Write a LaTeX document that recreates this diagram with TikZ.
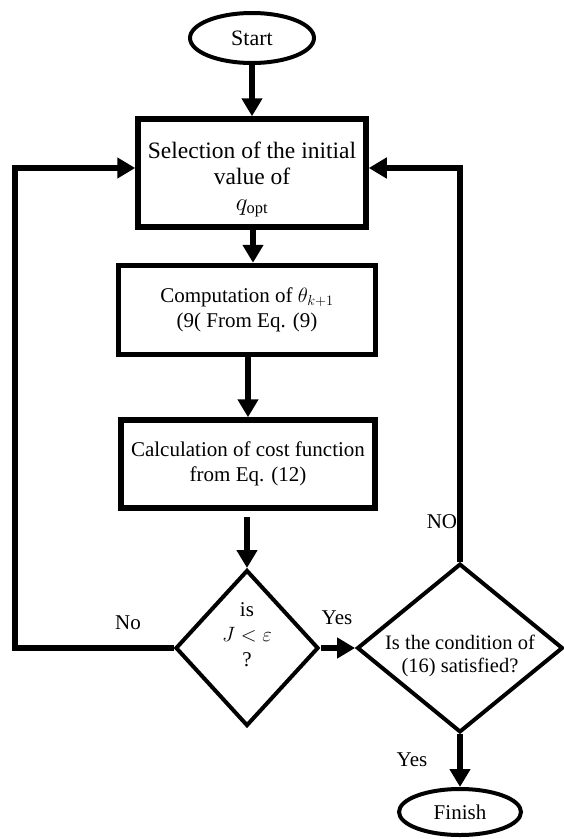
\documentclass[tikz,border=0pt]{standalone}
\usepackage{fontspec}
\setmainfont{Liberation Serif}
\usetikzlibrary{arrows.meta, shapes.geometric}
% lift the lines of a block without changing the size of its shape
\newcommand{\liftlines}[2]{\raisebox{#1}[\height][\depth]{\begin{tabular}{@{}c@{}}#2\end{tabular}}}

\begin{document}
\begin{tikzpicture}[x=1pt,y=-1pt,>={Triangle[length=18pt,width=20pt]},
  font=\fontsize{21}{25}\selectfont,
  box/.style={draw, rectangle, line width=5.5pt, align=center, inner sep=0pt},
  term/.style={draw, ellipse, line width=4pt, inner sep=0pt},
  decision/.style={draw, diamond, line width=4pt, inner sep=0pt},
  link/.style={->, line width=6pt}]
\useasboundingbox (0,0) rectangle (563,839);

% define the blocks of the chart
  \node[term, minimum width=124pt, minimum height=50pt, font=\fontsize{22}{26}\selectfont] (start) at (252,38) {Start};
  \node[box, minimum width=228pt, minimum height=108pt, font=\fontsize{23.5}{26}\selectfont] (sel) at (252,173)
    {\liftlines{-6pt}{Selection of the initial\\ value of\\ $q_{\mathrm{opt}}$}};
  \node[box, minimum width=257pt, minimum height=89pt] (comp) at (247,310)
    {Computation of $\theta_{k+1}$\\ (9( From Eq. (9)};
  \node[box, minimum width=254pt, minimum height=88pt] (calc) at (248,464)
    {Calculation of cost function\\ from Eq. (12)};
  \node[decision, minimum width=143pt, minimum height=156pt] (dec1) at (247,648)
    {\liftlines{12pt}{is\\ $J<\varepsilon$\\ ?}};
  \node[decision, shape aspect=1.22, minimum width=205pt, minimum height=168pt,
    font=\fontsize{20.5}{23}\selectfont] (dec2) at (460,648)
    {\liftlines{-8pt}{Is the condition of\\ (16) satisfied?}};
  \node[term, minimum width=122pt, minimum height=46pt] (finish) at (460,812) {Finish};
  \coordinate (loopL) at (15,0);

% define the links
  \draw[link] (start) -- (sel);
  \draw[link] (sel.south -| 253,0) -- (comp.north -| 253,0);
  \draw[link] (comp.south -| calc.north) -- (calc.north);
  \draw[link, shorten <=6pt] (calc.south -| dec1.north) -- (dec1.north);
  \draw[link] (dec1.east) -- (dec2.west);
  \draw[link] (dec1.west) -- (dec1.west -| loopL) |- ([yshift=5pt]sel.west);
  \draw[link] (dec2.north) |- ([yshift=5pt]sel.east);
  \draw[link] (dec2.south) -- (finish.north);

% labels of the branches
  \node (no1) at (128,623) {No};
  \node (yes1) at (337,618) {Yes};
  \node (no2) at (442,522) {NO};
  \node (yes2) at (412,760) {Yes};
\end{tikzpicture}
\end{document}
